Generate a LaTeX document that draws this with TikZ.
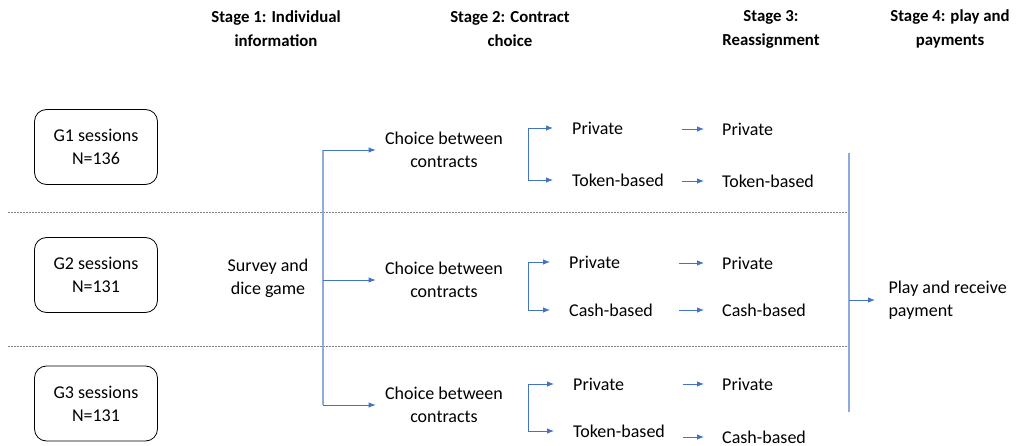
\documentclass[tikz,border=0pt]{standalone}
\usepackage{fontspec}
\setmainfont{Carlito}
\usetikzlibrary{positioning, arrows.meta, calc}

\definecolor{flowblue}{HTML}{4472C4}
\definecolor{railblue}{HTML}{8FAADC}

\begin{document}
\begin{tikzpicture}[x=1pt, y=-1pt, font=\fontsize{18}{23}\selectfont,
    session/.style = {draw, rounded corners=12pt, line width=0.8pt, minimum width=123pt, minimum height=75pt, align=center},
    stage/.style = {font=\fontsize{16.8}{24}\selectfont\bfseries, align=center},
    choice/.style = {align=center},
    contract/.style = {anchor=west, inner sep=2pt, text width=95pt, align=left},
    arr/.style = {-{Latex[length=7pt, width=5.5pt]}, flowblue, line width=0.8pt},
    rail/.style = {railblue, line width=1.2pt},
    sep/.style = {gray, line width=0.8pt, dash pattern=on 2pt off 1pt}]
    \useasboundingbox (0,0) rectangle (1025,446);

    % stage headings
    \node[stage] (st1) at (276,29) {Stage 1: Individual\\information};
    \node[stage] (st2) at (510,29) {Stage 2: Contract\\choice};
    \node[stage] (st3) at (771,29) {Stage 3:\\Reassignment};
    \node[stage] (st4) at (950,29) {Stage 4: play and\\payments};

    % session groups
    \node[session] (g1) at (96,147) {G1 sessions\\N=136};
    \node[session] (g2) at (96,275) {G2 sessions\\N=131};
    \node[session] (g3) at (96,403.5) {G3 sessions\\N=131};

    \draw[sep] (8,212) -- (850,212);
    \draw[sep] (8,346) -- (850,346);

    % stage 1
    \node[align=center] (survey) at (268,278) {Survey and\\dice game};
    \coordinate (r1) at (323,0);

    % stage 2
    \node[choice] (c1) at (444,150) {Choice between\\contracts};
    \node[choice] (c2) at (444,280) {Choice between\\contracts};
    \node[choice] (c3) at (444,405) {Choice between\\contracts};

    \draw[rail] (r1 |- c1) -- (r1 |- c3);
    \foreach \c in {c1,c2,c3}
        \draw[arr, shorten >=6pt] (r1 |- \c) -- (\c);

    \node[contract] (p1) at (570,128) {Private};
    \node[contract] (t1) at (570,180) {Token-based};
    \node[contract] (p2) at (567,262) {Private};
    \node[contract] (t2) at (567,310) {Cash-based};
    \node[contract] (p3) at (571,384) {Private};
    \node[contract] (t3) at (571,431) {Token-based};

    \coordinate (br) at (528,0);
    \foreach \p/\t in {p1/t1,p2/t2,p3/t3} {
        \draw[arr, shorten >=17pt] (br |- \t) |- (\p);
        \draw[arr, shorten >=17pt] (br |- \t) -- (\t);
    }

    % stage 3
    \node[contract] (q1) at (720,129) {Private};
    \node[contract] (u1) at (720,181) {Token-based};
    \node[contract] (q2) at (720,263) {Private};
    \node[contract] (u2) at (720,310) {Cash-based};
    \node[contract] (q3) at (720,384) {Private};
    \node[contract] (u3) at (720,437) {Cash-based};

    \foreach \a/\b in {p1/q1,t1/u1,p2/q2,t2/u2,p3/q3,t3/u3}
        \draw[arr, shorten <=13pt, shorten >=16pt] (\a.east |- \b) -- (\b);

    % stage 4
    \node[anchor=west, align=left] (play) at (885,300) {Play and receive\\payment};
    \coordinate (r2top) at (849,153);
    \coordinate (r2bot) at (849,412);
    \draw[rail] (r2top) -- (r2bot);
    \draw[arr, shorten >=10pt] (r2top |- play) -- (play);
\end{tikzpicture}
\end{document}
